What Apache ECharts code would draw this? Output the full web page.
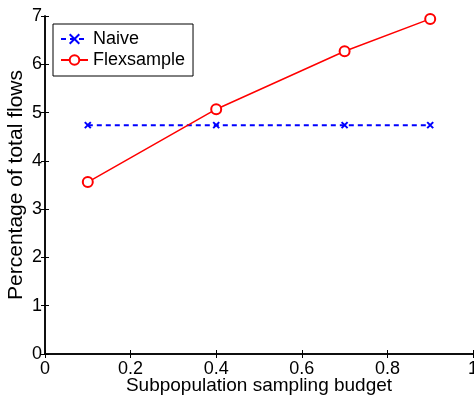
<!DOCTYPE html>
<html><head><meta charset="utf-8">
<script src="https://cdn.jsdelivr.net/npm/echarts@6/dist/echarts.min.js"></script>
<style>html,body{margin:0;padding:0;background:#fff}#c{width:474px;height:395px}</style>
</head><body><div id="c"></div>
<script>
const budgets = [0.1, 0.4, 0.7, 0.9];
const naive = [4.74, 4.74, 4.74, 4.74];
const flexsample = [3.56, 5.07, 6.27, 6.94];
const xTicks = [0, 0.2, 0.4, 0.6, 0.8, 1];
const yTicks = [0, 1, 2, 3, 4, 5, 6, 7];

const FONT = "'Liberation Sans', Arial, Helvetica, sans-serif";
const chart = echarts.init(document.getElementById('c'), null, {renderer: 'canvas'});
const axisLine = {show: true, lineStyle: {color: '#000', width: 1.5}};
const tick = {show: true, inside: true, length: 4, lineStyle: {color: '#000', width: 1}};
const lbl = {color: '#000', fontFamily: FONT, fontSize: 18};
chart.setOption({
  animation: false,
  grid: {left: 45, right: 1, top: 16, bottom: 41, containLabel: false, outerBoundsMode: 'none'},
  legend: {
    left: 53, top: 24, orient: 'vertical',
    backgroundColor: '#fff', borderColor: '#000', borderWidth: 1,
    padding: [6, 8, 7, 7], itemGap: 3, itemWidth: 27, itemHeight: 12,
    textStyle: {color: '#000', fontFamily: FONT, fontSize: 18},
    data: ['Naive', 'Flexsample']
  },
  xAxis: [{
    type: 'value', min: xTicks[0], max: xTicks[xTicks.length - 1], interval: 0.2,
    axisLine, axisTick: tick, splitLine: {show: false},
    axisLabel: Object.assign({margin: 6, formatter: v => String(+v.toFixed(1))}, lbl),
    name: 'Subpopulation sampling budget', nameLocation: 'middle', nameGap: 22,
    nameMoveOverlap: false,
    nameTextStyle: {color: '#000', fontFamily: FONT, fontSize: 19}
  }, {
    type: 'value', position: 'top', min: 0, max: 1, interval: 0.2,
    axisLine, axisTick: tick, axisLabel: {show: false}, splitLine: {show: false}
  }],
  yAxis: [{
    type: 'value', min: yTicks[0], max: yTicks[yTicks.length - 1], interval: 1,
    axisLine, axisTick: tick, splitLine: {show: false},
    axisLabel: Object.assign({margin: 3}, lbl),
    name: 'Percentage of total flows', nameLocation: 'middle', nameGap: 18,
    nameMoveOverlap: false,
    nameTextStyle: {color: '#000', fontFamily: FONT, fontSize: 21}
  }, {
    type: 'value', position: 'right', min: 0, max: 7, interval: 1,
    axisLine, axisTick: tick, axisLabel: {show: false}, splitLine: {show: false}
  }],
  series: [{
    name: 'Naive', type: 'line',
    data: budgets.map((x, i) => [x, naive[i]]),
    symbol: 'path://M0,0L10,10M10,0L0,10', symbolSize: 6,
    itemStyle: {color: '#0000ff', borderColor: '#0000ff', borderWidth: 2},
    lineStyle: {color: '#0000ff', width: 2, type: [5, 4]}
  }, {
    name: 'Flexsample', type: 'line',
    data: budgets.map((x, i) => [x, flexsample[i]]),
    symbol: 'emptyCircle', symbolSize: 10,
    itemStyle: {color: '#ff0000', borderColor: '#ff0000', borderWidth: 1.5},
    lineStyle: {color: '#ff0000', width: 1.5}
  }]
});
</script></body></html>
